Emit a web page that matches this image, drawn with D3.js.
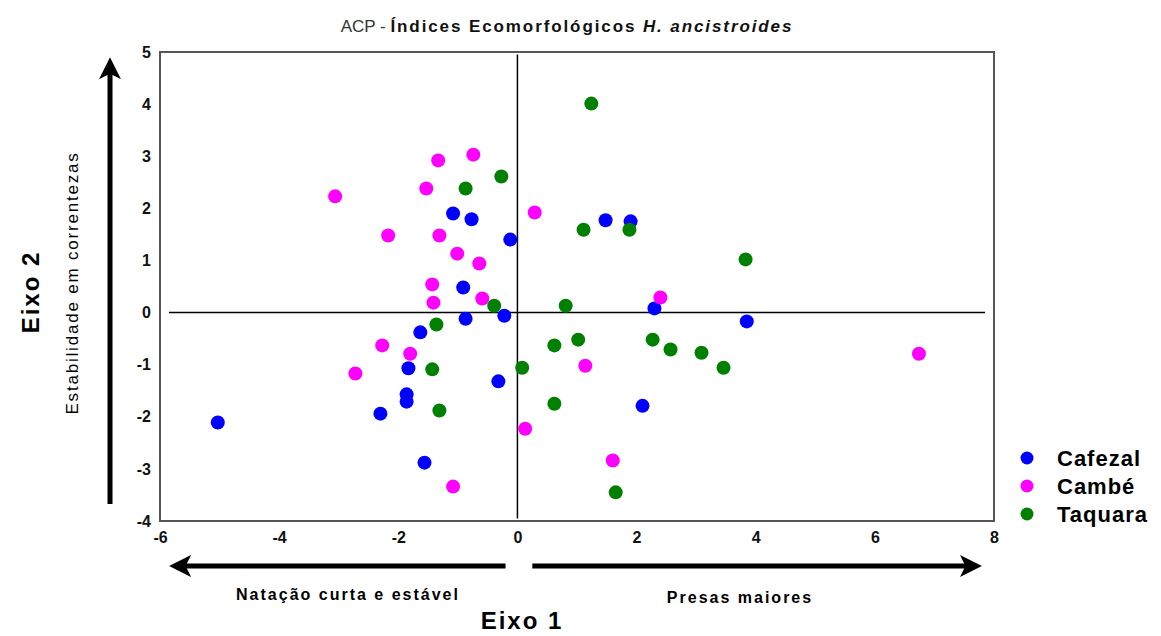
<!DOCTYPE html>
<html>
<head>
	<script src="https://cdn.jsdelivr.net/npm/d3@7"></script>
	<style>
		html, body {
			padding: 0;
			margin: 0;
			background: #fff;
		}
		text { font-family: "Liberation Sans", Arial, sans-serif; }
	</style>
</head>
<body>
	<script>
		var width = 1161, height = 636;

		// data (Eixo 1, Eixo 2)
		var groups = ["Cafezal", "Cambé", "Taquara"];
		var colors = ["#0000ff", "#ff00ff", "#008000"];

		var cafezalX = [-5.03, -1.08, -0.77, -0.12, -0.91, -0.87, -0.22, -1.63, -1.83, -1.86, -1.86, -2.30, -1.56, -0.32, 1.48, 1.90, 2.30, 3.85, 2.10];
		var cafezalY = [-2.11, 1.90, 1.79, 1.40, 0.48, -0.12, -0.06, -0.38, -1.07, -1.57, -1.71, -1.94, -2.88, -1.32, 1.77, 1.75, 0.08, -0.17, -1.79];

		var cambeX = [-3.06, -1.33, -0.74, -1.53, -2.17, -1.31, -1.01, -0.64, -1.43, -1.41, -0.59, 0.29, -2.27, -1.80, -2.72, 0.13, -1.08, 2.40, 1.14, 6.74, 1.60];
		var cambeY = [2.23, 2.92, 3.03, 2.38, 1.48, 1.48, 1.13, 0.94, 0.54, 0.19, 0.27, 1.92, -0.63, -0.79, -1.17, -2.23, -3.34, 0.29, -1.02, -0.79, -2.84];

		var taquaraX = [1.24, -0.27, -0.87, 1.11, 1.88, 3.83, -0.39, 0.81, -1.36, -1.43, -1.31, 0.08, 0.62, 1.02, 2.27, 2.57, 3.09, 3.46, 0.62, 1.65];
		var taquaraY = [4.01, 2.61, 2.38, 1.59, 1.59, 1.02, 0.13, 0.13, -0.23, -1.09, -1.88, -1.06, -0.63, -0.52, -0.52, -0.71, -0.77, -1.06, -1.75, -3.45];

		var xTicks = [-6, -4, -2, 0, 2, 4, 6, 8];
		var yTicks = [5, 4, 3, 2, 1, 0, -1, -2, -3, -4];

		var seriesX = [cafezalX, cambeX, taquaraX];
		var seriesY = [cafezalY, cambeY, taquaraY];

		var svg = d3.select('body').append('svg')
			.attr('width', width)
			.attr('height', height)
			.style('background-color', 'white');

		var x = d3.scaleLinear().domain([-6, 8]).range([160, 994]);
		var y = d3.scaleLinear().domain([-4, 5]).range([521, 52]);

		/* arrow head marker */
		svg.append('defs').append('marker')
			.attr('id', 'head')
			.attr('viewBox', '0 0 10 10')
			.attr('refX', 6)
			.attr('refY', 5)
			.attr('markerWidth', 4.4)
			.attr('markerHeight', 4.4)
			.attr('markerUnits', 'strokeWidth')
			.attr('orient', 'auto')
			.append('path')
			.attr('d', 'M0,0 L10,5 L0,10 L2.5,5 Z')
			.attr('fill', '#000');

		/* title */
		var title = svg.append('text')
			.attr('x', 567)
			.attr('y', 32)
			.attr('text-anchor', 'middle')
			.style('font-size', '17px');
		title.append('tspan').attr('fill', '#333').text('ACP - ');
		title.append('tspan').attr('font-weight', 'bold').attr('fill', '#111').attr('letter-spacing', '1.9px').text('Índices Ecomorfológicos ');
		title.append('tspan').attr('font-weight', 'bold').attr('font-style', 'italic').attr('fill', '#111').attr('letter-spacing', '1.9px').text('H. ancistroides');

		/* frame */
		svg.append('rect')
			.attr('x', x(-6))
			.attr('y', y(5))
			.attr('width', x(8) - x(-6))
			.attr('height', y(-4) - y(5))
			.attr('fill', 'none')
			.attr('stroke', '#555')
			.attr('stroke-width', 2);

		/* zero lines */
		svg.append('line')
			.attr('x1', x(-5.85)).attr('x2', x(7.85))
			.attr('y1', y(0)).attr('y2', y(0))
			.attr('stroke', '#000').attr('stroke-width', 1.5);
		svg.append('line')
			.attr('x1', x(0)).attr('x2', x(0))
			.attr('y1', y(4.95)).attr('y2', y(-3.95))
			.attr('stroke', '#000').attr('stroke-width', 1.5);

		/* axes */
		var yAxis = svg.append('g')
			.attr('transform', 'translate(' + (x(-6) - 9) + ',0)')
			.call(d3.axisLeft(y).tickValues(yTicks).tickSize(0).tickPadding(0).tickFormat(String));
		yAxis.select('.domain').remove();
		yAxis.selectAll('text')
			.style('font-size', '16px')
			.style('font-weight', 'bold')
			.attr('fill', '#111')
			.attr('font-family', null);

		var xAxis = svg.append('g')
			.attr('transform', 'translate(0,' + (y(-4) + 7) + ')')
			.call(d3.axisBottom(x).tickValues(xTicks).tickSize(0).tickPadding(4).tickFormat(String));
		xAxis.select('.domain').remove();
		xAxis.selectAll('text')
			.style('font-size', '16px')
			.style('font-weight', 'bold')
			.attr('fill', '#111')
			.attr('font-family', null);

		/* big arrows */
		svg.append('line')
			.attr('x1', 110).attr('y1', 504)
			.attr('x2', 110).attr('y2', 66)
			.attr('stroke', '#000').attr('stroke-width', 5)
			.attr('marker-end', 'url(#head)');
		svg.append('line')
			.attr('x1', x(-0.2)).attr('y1', 566)
			.attr('x2', x(-5.7)).attr('y2', 566)
			.attr('stroke', '#000').attr('stroke-width', 5)
			.attr('marker-end', 'url(#head)');
		svg.append('line')
			.attr('x1', x(0.25)).attr('y1', 566)
			.attr('x2', x(7.65)).attr('y2', 566)
			.attr('stroke', '#000').attr('stroke-width', 5)
			.attr('marker-end', 'url(#head)');

		/* axis texts */
		svg.append('text')
			.attr('transform', 'translate(39,292) rotate(-90)')
			.attr('text-anchor', 'middle')
			.attr('letter-spacing', '2px')
			.style('font-size', '24px')
			.style('font-weight', 'bold')
			.text('Eixo 2');
		svg.append('text')
			.attr('transform', 'translate(78,283) rotate(-90)')
			.attr('text-anchor', 'middle')
			.attr('letter-spacing', '1.8px')
			.style('font-size', '17px')
			.text('Estabilidade em correntezas');

		svg.append('text')
			.attr('x', 348).attr('y', 600)
			.attr('text-anchor', 'middle')
			.attr('letter-spacing', '2px')
			.style('font-size', '16px')
			.style('font-weight', 'bold')
			.text('Natação curta e estável');
		svg.append('text')
			.attr('x', 740).attr('y', 603)
			.attr('text-anchor', 'middle')
			.attr('letter-spacing', '2px')
			.style('font-size', '16px')
			.style('font-weight', 'bold')
			.text('Presas maiores');
		svg.append('text')
			.attr('x', 522).attr('y', 629)
			.attr('text-anchor', 'middle')
			.attr('letter-spacing', '2px')
			.style('font-size', '24px')
			.style('font-weight', 'bold')
			.text('Eixo 1');

		/* points */
		for (var s = 0; s < groups.length; s++) {
			var pts = d3.zip(seriesX[s], seriesY[s]);
			svg.append('g').selectAll('circle')
				.data(pts)
				.enter().append('circle')
				.attr('cx', function(d) { return x(d[0]); })
				.attr('cy', function(d) { return y(d[1]); })
				.attr('r', 7)
				.attr('fill', colors[s]);
		}

		/* legend */
		var legend = svg.append('g');
		groups.forEach(function(g, i) {
			legend.append('circle')
				.attr('cx', 1027)
				.attr('cy', 458 + i * 28)
				.attr('r', 6.5)
				.attr('fill', colors[i]);
			legend.append('text')
				.attr('x', 1057)
				.attr('y', 466 + i * 28)
				.attr('letter-spacing', '1px')
				.style('font-size', '22px')
				.style('font-weight', 'bold')
				.text(g);
		});
	</script>
</body>
</html>
